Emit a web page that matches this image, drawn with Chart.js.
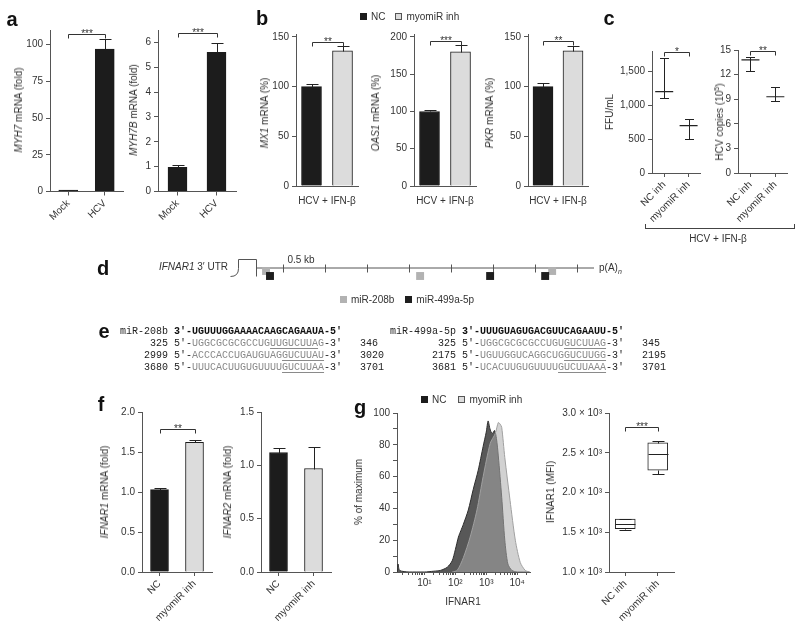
<!DOCTYPE html>
<html lang="en">
<head>
<meta charset="UTF-8">
<title>myomiR inhibition and IFNAR1</title>
<script src="https://cdn.jsdelivr.net/npm/chart.js"></script>
<style>
  body { margin: 0; background: #fff; }
  #fig { position: relative; width: 800px; height: 628px; overflow: hidden;
         font-family: "Liberation Sans", Arial, sans-serif; color: #333; }
  .cv { position: absolute; }
  .t { position: absolute; font-size: 10px; line-height: 12px; white-space: nowrap; will-change: transform; }
  .t sup { font-size: 7px; line-height: 0; }
  .t sub { font-size: 7px; line-height: 0; }
  .p { font-size: 20px; font-weight: bold; color: #111; line-height: 20px; }
  .sw { display: inline-block; width: 7px; height: 7px; margin-right: 4px; box-sizing: border-box; }
  .seq { position: absolute; margin: 0; font: 10px/12px "Liberation Mono", "DejaVu Sans Mono", monospace; color: #222;
         white-space: pre; will-change: transform; }
  .seq b { color: #111; }
  .seq .g { color: #8a8a8a; }
  .seq u { text-decoration-color: #8a8a8a; text-underline-offset: 2px; }
  .brk { position: absolute; border: 1px solid #444; border-top: none; }
</style>
</head>
<body>
<div id="fig">
  <pre class="seq" style="left:120px;top:326px">miR-208b <b>3′-UGUUUGGAAAACAAGCAGAAUA-5′</b>
     325 5′-<span class="g">UGGCGCGCGCCUG<u>UUGUCUUA</u>G</span>-3′   346
    2999 5′-<span class="g">ACCCACCUGAUGUAG<u>GUCUUAU</u></span>-3′   3020
    3680 5′-<span class="g">UUUCACUUGUGUUUU<u>GUCUUAA</u></span>-3′   3701</pre>
  <pre class="seq" style="left:390px;top:326px">miR-499a-5p <b>3′-UUUGUAGUGACGUUCAGAAUU-5′</b>
        325 5′-<span class="g">UGGCGCGCGCCUGU<u>GUCUUAG</u></span>-3′   345
       2175 5′-<span class="g">UGUUGGUCAGGCUG<u>GUCUUGG</u></span>-3′   2195
       3681 5′-<span class="g">UCACUUGUGUUUU<u>GUCUUAAA</u></span>-3′   3701</pre>
  <div class="brk" style="left:645px;top:224px;width:148px;height:4px"></div>
</div>

<script>
// ---- a: MYH7 / MYH7B after HCV infection ----
const aLabels = ['Mock', 'HCV'];
const myh7 = [1, 97], myh7Sem = [0.3, 7];
const myh7b = [0.97, 5.6], myh7bSem = [0.1, 0.37];
const myh7Ticks = [0, 25, 50, 75, 100];
const myh7bTicks = [0, 1, 2, 3, 4, 5, 6];

// ---- b: ISG mRNA, HCV + IFN-beta ----
const bLabels = ['NC', 'myomiR inh'];
const mx1 = [100, 136], mx1Sem = [3, 5];
const oas1 = [100, 180], oas1Sem = [2, 9];
const pkr = [100, 136], pkrSem = [4, 5];
const pct150Ticks = [0, 50, 100, 150];
const pct200Ticks = [0, 50, 100, 150, 200];

// ---- c: virus yield (mean with range) ----
const cLabels = ['NC inh', 'myomiR inh'];
const ffuMean = [1200, 700], ffuLo = [1100, 500], ffuHi = [1700, 800];
const hcvMean = [13.8, 9.3], hcvLo = [12.4, 8.8], hcvHi = [14.2, 10.5];
const ffuTicks = [0, 500, 1000, 1500];
const hcvTicks = [0, 3, 6, 9, 12, 15];

// ---- d: IFNAR1 3' UTR map (nt) ----
const utrSpan = [180, 4200];
const kbTicks = [500, 1000, 1500, 2000, 2500, 3000, 3500, 4000];
const sites208b = [298, 2131, 3702], lane208b = [0.6, 1.6, 0.6];
const sites499 = [345, 2964, 3619], lane499 = [1.6, 1.6, 1.6];

// ---- f: IFNAR1 / IFNAR2 mRNA ----
const fLabels = ['NC', 'myomiR inh'];
const ifnar1 = [1.03, 1.62], ifnar1Sem = [0.02, 0.03];
const ifnar2 = [1.12, 0.97], ifnar2Sem = [0.04, 0.2];
const fold2Ticks = [0, 0.5, 1, 1.5, 2];
const fold15Ticks = [0, 0.5, 1, 1.5];

// ---- g: flow histogram + MFI box plot ----
const ncMfi = [1.32, 1.41, 1.58, 3.2, 10, 20, 33, 55, 79, 100, 126, 151, 182, 263, 380, 550, 794, 1000, 1148, 1318, 1549, 1862, 2138, 2455, 3162, 3981, 5012, 6761, 10000, 25000];
const ncPct = [0, 5, 1, 0, 0, 0.5, 1, 3, 7, 14, 22, 26, 30, 39, 52, 64, 79, 88, 95, 90, 87, 89, 84, 73, 47, 20, 5, 1, 0, 0];
const myoMfi = [79, 115, 182, 302, 501, 794, 1349, 1950, 2455, 2818, 3162, 3981, 5888, 8710, 12589, 18197, 25000];
const myoPct = [0, 1, 9, 22, 39, 60, 81, 87, 94, 93, 91, 72, 45, 20, 6, 1, 0];
const pctTicks = [0, 5, 10, 15, 20, 25, 30, 35, 40, 45, 50, 55, 60, 65, 70, 75, 80, 85, 90, 95, 100];
const logTicks = [2, 3, 4, 5, 6, 7, 8, 9, 10, 20, 30, 40, 50, 60, 70, 80, 90, 100, 200, 300, 400, 500, 600, 700, 800, 900,
                  1000, 2000, 3000, 4000, 5000, 6000, 7000, 8000, 9000, 10000, 20000];
const logLabels = { 10: '10¹', 100: '10²', 1000: '10³', 10000: '10⁴' };
const boxMin = [1530, 2230], boxQ1 = [1545, 2280], boxMed = [1600, 2490], boxQ3 = [1665, 2625], boxMax = [1672, 2652];
const mfiTicks = [1000, 1500, 2000, 2500, 3000];

const AX = '#555', TXT = '#333', DARK = '#1c1c1c', LIGHT = '#dcdcdc';
Chart.defaults.font.family = '"Liberation Sans", Arial, sans-serif';
Chart.defaults.font.size = 10;
Chart.defaults.color = TXT;

const fig = document.getElementById('fig');

// a div + canvas whose chart area lands on area = [x0, x1, y0, y1]
function host(area, pad) {
  const d = document.createElement('div');
  d.className = 'cv';
  const left = area[0] - pad.l, top = area[2] - pad.t;
  d.style.left = left + 'px';
  d.style.top = top + 'px';
  d.style.width = (area[1] + pad.r - left) + 'px';
  d.style.height = (area[3] + pad.b - top) + 'px';
  const c = document.createElement('canvas');
  d.appendChild(c);
  fig.appendChild(d);
  return c;
}

function text(html, x, y, align = 'c', cls = '') {
  const d = document.createElement('div');
  d.className = 't ' + cls;
  d.innerHTML = html;
  d.style.left = x + 'px';
  d.style.top = y + 'px';
  const tx = align === 'l' ? '0' : align === 'r' ? '-100%' : '-50%';
  d.style.transform = `translate(${tx},-50%)`;
  fig.appendChild(d);
}

function yTitle(html, x, y) {
  const d = document.createElement('div');
  d.className = 't';
  d.innerHTML = html;
  d.style.left = x + 'px';
  d.style.top = y + 'px';
  d.style.transform = 'translate(-50%,-50%) rotate(-90deg)';
  fig.appendChild(d);
}

// error bars: upper SEM for bars, full range for mean markers
const errPlugin = {
  id: 'err',
  afterDatasetsDraw(chart) {
    const { ctx } = chart, ys = chart.scales.y;
    chart.data.datasets.forEach((ds, i) => {
      chart.getDatasetMeta(i).data.forEach((el, j) => {
        let lo, hi;
        if (ds.sem) { lo = ds.data[j]; hi = ds.data[j] + ds.sem[j]; }
        else if (ds.lo) { lo = ds.lo[j]; hi = ds.hi[j]; }
        else return;
        const x = Math.round(el.x) + 0.5;
        const y0 = Math.round(ys.getPixelForValue(lo)) + 0.5;
        const y1 = Math.round(ys.getPixelForValue(hi)) + 0.5;
        const c = ds.capHalf || 5;
        ctx.save();
        ctx.strokeStyle = '#222';
        ctx.lineWidth = 1;
        ctx.beginPath();
        ctx.moveTo(x, y0); ctx.lineTo(x, y1);
        ctx.moveTo(x - c, y1); ctx.lineTo(x + c, y1);
        if (ds.lo) { ctx.moveTo(x - c, y0); ctx.lineTo(x + c, y0); }
        ctx.stroke();
        ctx.restore();
      });
    });
  }
};

// significance bracket between the two categories
const sigPlugin = {
  id: 'sig',
  afterDraw(chart, args, o) {
    if (!o.text) return;
    const { ctx } = chart, xs = chart.scales.x, ys = chart.scales.y;
    const x0 = Math.round(xs.getPixelForTick(0)) + 0.5, x1 = Math.round(xs.getPixelForTick(1)) + 0.5;
    const y = Math.round(ys.getPixelForValue(o.at)) + 0.5;
    ctx.save();
    ctx.strokeStyle = '#333';
    ctx.lineWidth = 1;
    ctx.beginPath();
    ctx.moveTo(x0, y + 4); ctx.lineTo(x0, y); ctx.lineTo(x1, y); ctx.lineTo(x1, y + 4);
    ctx.stroke();
    ctx.fillStyle = '#333';
    ctx.font = '10px "Liberation Sans", Arial, sans-serif';
    ctx.textAlign = 'center';
    ctx.textBaseline = 'alphabetic';
    ctx.fillText(o.text, (x0 + x1) / 2, y + 2);
    ctx.restore();
  }
};

// median + whiskers on top of floating q1..q3 bars
const boxPlugin = {
  id: 'box',
  afterDatasetsDraw(chart) {
    const { ctx } = chart, ys = chart.scales.y;
    const ds = chart.data.datasets[0];
    const py = v => Math.round(ys.getPixelForValue(v)) + 0.5;
    chart.getDatasetMeta(0).data.forEach((el, j) => {
      const x = Math.round(el.x) + 0.5, hw = el.width / 2;
      ctx.save();
      ctx.strokeStyle = '#222';
      ctx.lineWidth = 1;
      ctx.beginPath();
      ctx.moveTo(x - hw, py(ds.med[j])); ctx.lineTo(x + hw, py(ds.med[j]));
      ctx.moveTo(x, py(ds.q3[j])); ctx.lineTo(x, py(ds.hi[j]));
      ctx.moveTo(x - 6, py(ds.hi[j])); ctx.lineTo(x + 6, py(ds.hi[j]));
      ctx.moveTo(x, py(ds.q1[j])); ctx.lineTo(x, py(ds.lo[j]));
      ctx.moveTo(x - 6, py(ds.lo[j])); ctx.lineTo(x + 6, py(ds.lo[j]));
      ctx.stroke();
      ctx.restore();
    });
  }
};

// UTR tick marks and the stop-codon cap on the left of the line
const utrPlugin = {
  id: 'utr',
  beforeDatasetsDraw(chart) {
    const { ctx } = chart, xs = chart.scales.x, ys = chart.scales.y;
    const y0 = Math.round(ys.getPixelForValue(0)) + 0.5;
    ctx.save();
    ctx.strokeStyle = '#555';
    ctx.lineWidth = 1;
    ctx.beginPath();
    kbTicks.forEach(v => {
      const px = Math.round(xs.getPixelForValue(v)) + 0.5;
      ctx.moveTo(px, y0 - 4); ctx.lineTo(px, y0 + 4);
    });
    const xr = Math.round(xs.getPixelForValue(utrSpan[0])) + 0.5, xl = xr - 26;
    ctx.moveTo(xl, y0 + 8);
    ctx.quadraticCurveTo(xl + 8, y0 + 8, xl + 8, y0);
    ctx.lineTo(xl + 8, y0 - 9); ctx.lineTo(xr, y0 - 9); ctx.lineTo(xr, y0 + 8);
    ctx.stroke();
    ctx.restore();
  }
};

function baseOpts(pad, scales, extra = {}) {
  return {
    responsive: true, maintainAspectRatio: false, animation: false,
    layout: { padding: { top: pad.t, right: pad.r, left: 0, bottom: 0 } },
    plugins: Object.assign({ legend: { display: false }, tooltip: { enabled: false } }, extra),
    scales
  };
}

function yLin(ticks, min, max, fmt, w) {
  return {
    min, max,
    border: { color: AX },
    grid: { drawOnChartArea: false, color: AX, tickLength: 4 },
    ticks: { padding: 3, color: TXT, callback: fmt || (v => v) },
    afterBuildTicks: s => { s.ticks = ticks.map(v => ({ value: v })); },
    afterFit: s => { s.width = w; }
  };
}

function xCat(h, show) {
  return {
    offset: true,
    border: { color: AX },
    grid: { display: show, drawOnChartArea: false, offset: false, color: AX, tickLength: 4 },
    ticks: { display: show, autoSkip: false, minRotation: 45, maxRotation: 45, padding: 2, color: TXT },
    afterFit: s => { s.height = h; }
  };
}

function barChart(area, labels, vals, sem, colors, ticks, max, o = {}) {
  const pad = { l: 40, t: 22, r: 8, b: o.xLabels ? 56 : 4 };
  new Chart(host(area, pad), {
    type: 'bar',
    data: { labels, datasets: [{ data: vals, sem, capHalf: 6, backgroundColor: colors,
      borderColor: DARK, borderWidth: 1, barThickness: o.bw || 19 }] },
    options: baseOpts(pad, { x: xCat(pad.b, !!o.xLabels), y: yLin(ticks, 0, max, o.fmt, pad.l) },
      { sig: o.sig || {} }),
    plugins: [errPlugin, sigPlugin]
  });
}

function rangeChart(area, labels, mean, lo, hi, ticks, max, fmt, sig) {
  const pad = { l: 40, t: 22, r: 8, b: 56 };
  new Chart(host(area, pad), {
    type: 'line',
    data: { labels, datasets: [{ data: mean, lo, hi, capHalf: 4.5, showLine: false,
      pointStyle: 'line', pointRadius: 9, pointBorderWidth: 1.2, pointBorderColor: '#222', borderColor: '#222' }] },
    options: baseOpts(pad, { x: xCat(pad.b, true), y: yLin(ticks, 0, max, fmt, pad.l) }, { sig }),
    plugins: [errPlugin, sigPlugin]
  });
}

const two = [DARK, LIGHT];
const fix1 = v => v.toFixed(1);
const thousands = v => v.toLocaleString('en-US');

// a
barChart([50, 123, 29.5, 191], aLabels, myh7, myh7Sem, [DARK, DARK], myh7Ticks, 110,
  { xLabels: true, bw: 19, sig: { text: '***', at: 107.5 } });
barChart([158, 236, 29.5, 191], aLabels, myh7b, myh7bSem, [DARK, DARK], myh7bTicks, 6.5,
  { xLabels: true, bw: 19, sig: { text: '***', at: 6.36 } });

// b
barChart([296, 358, 34, 191], bLabels, mx1, mx1Sem, two, pct150Ticks, 153, { bw: 20, sig: { text: '**', at: 145 } });
barChart([414, 476, 34, 191], bLabels, oas1, oas1Sem, two, pct200Ticks, 204, { bw: 20, sig: { text: '***', at: 194 } });
barChart([528, 588, 34, 191], bLabels, pkr, pkrSem, two, pct150Ticks, 153, { bw: 20, sig: { text: '**', at: 146 } });

// c
rangeChart([652, 703, 51, 173], cLabels, ffuMean, ffuLo, ffuHi, ffuTicks, 1800, thousands, { text: '*', at: 1790 });
rangeChart([738, 790, 50, 173], cLabels, hcvMean, hcvLo, hcvHi, hcvTicks, 15, null, { text: '**', at: 14.9 });

// d
const dPad = { l: 20, t: 10, r: 6, b: 6 };
new Chart(host([241, 594, 263, 283], dPad), {
  type: 'scatter',
  data: { datasets: [
    { data: sites499.map((x, i) => ({ x, y: lane499[i] })), pointStyle: 'rect', pointRadius: 5.6,
      pointBackgroundColor: '#1e1e1e', pointBorderWidth: 0, order: 0 },
    { data: sites208b.map((x, i) => ({ x, y: lane208b[i] })), pointStyle: 'rect', pointRadius: 5.6,
      pointBackgroundColor: '#b2b2b2', pointBorderWidth: 0, order: 1 },
    { data: utrSpan.map(x => ({ x, y: 0 })), showLine: true, borderColor: '#555', borderWidth: 1,
      pointRadius: 0, order: 2 }
  ] },
  options: {
    responsive: true, maintainAspectRatio: false, animation: false,
    layout: { padding: { left: dPad.l, top: dPad.t, right: dPad.r, bottom: dPad.b } },
    plugins: { legend: { display: false }, tooltip: { enabled: false } },
    scales: {
      x: { type: 'linear', display: false, min: 0, max: 4200 },
      y: { type: 'linear', display: false, min: -1, max: 3, reverse: true }
    }
  },
  plugins: [utrPlugin]
});

// f
barChart([142, 212, 412, 572], fLabels, ifnar1, ifnar1Sem, two, fold2Ticks, 2,
  { xLabels: true, bw: 18, fmt: fix1, sig: { text: '**', at: 1.79 } });
barChart([261, 331, 412, 572], fLabels, ifnar2, ifnar2Sem, two, fold15Ticks, 1.5,
  { xLabels: true, bw: 18, fmt: fix1 });

// g histogram
const hPad = { l: 40, t: 10, r: 8, b: 22 };
new Chart(host([397, 530, 413, 572], hPad), {
  type: 'scatter',
  data: { datasets: [
    { data: ncMfi.map((x, i) => ({ x, y: ncPct[i] })), showLine: true, fill: 'origin', tension: 0.25,
      pointRadius: 0, borderWidth: 1, borderColor: '#2e2e2e', backgroundColor: 'rgb(88,88,88)', order: 1 },
    { data: myoMfi.map((x, i) => ({ x, y: myoPct[i] })), showLine: true, fill: 'origin', tension: 0.25,
      pointRadius: 0, borderWidth: 1, borderColor: '#a0a0a0', backgroundColor: 'rgba(172,172,172,0.55)', order: 0 }
  ] },
  options: baseOpts(hPad, {
    x: {
      type: 'logarithmic', min: 1.3, max: 26000,
      border: { color: AX },
      grid: { drawOnChartArea: false, color: AX, tickLength: 3 },
      ticks: { padding: 2, autoSkip: false, maxRotation: 0, color: TXT, callback: v => logLabels[v] || '' },
      afterBuildTicks: s => { s.ticks = logTicks.map(v => ({ value: v })); },
      afterFit: s => { s.height = hPad.b; }
    },
    y: yLin(pctTicks, 0, 100, v => (v % 20 === 0 ? v : ''), hPad.l)
  })
});

// g box plot
const bxPad = { l: 60, t: 22, r: 8, b: 56 };
new Chart(host([609, 674, 413, 572], bxPad), {
  type: 'bar',
  data: { labels: cLabels, datasets: [{
    data: boxQ1.map((q, i) => [q, boxQ3[i]]), q1: boxQ1, q3: boxQ3, med: boxMed, lo: boxMin, hi: boxMax,
    backgroundColor: '#fff', borderColor: '#222', borderWidth: 1, borderSkipped: false, barThickness: 20 }] },
  options: baseOpts(bxPad, {
    x: xCat(bxPad.b, true),
    y: yLin(mfiTicks, 1000, 3000, v => (v / 1000).toFixed(1) + ' × 10³', bxPad.l)
  }, { sig: { text: '***', at: 2824 } }),
  plugins: [boxPlugin, sigPlugin]
});

// ---- text ----
text('a', 12, 19, 'c', 'p');
text('b', 262, 18, 'c', 'p');
text('c', 609, 18, 'c', 'p');
text('d', 103, 268, 'c', 'p');
text('e', 104, 331, 'c', 'p');
text('f', 101, 404, 'c', 'p');
text('g', 360, 407, 'c', 'p');

yTitle('<i>MYH7</i> mRNA (fold)', 19, 110);
yTitle('<i>MYH7B</i> mRNA (fold)', 134, 110);
yTitle('<i>MX1</i> mRNA (%)', 265, 113);
yTitle('<i>OAS1</i> mRNA (%)', 376, 113);
yTitle('<i>PKR</i> mRNA (%)', 490, 113);
yTitle('FFU/mL', 610, 112);
yTitle('HCV copies (10<sup>5</sup>)', 720, 122);
yTitle('<i>IFNAR1</i> mRNA (fold)', 105, 492);
yTitle('<i>IFNAR2</i> mRNA (fold)', 228, 492);
yTitle('% of maximum', 359, 492);
yTitle('IFNAR1 (MFI)', 551, 492);

text('HCV + IFN-β', 327, 201);
text('HCV + IFN-β', 445, 201);
text('HCV + IFN-β', 558, 201);
text('HCV + IFN-β', 718, 239);
text('IFNAR1', 463, 602);

const swDark = '<span class="sw" style="background:' + DARK + '"></span>';
const swLight = '<span class="sw" style="background:' + LIGHT + ';border:1px solid #555"></span>';
text(swDark + 'NC<span style="display:inline-block;width:10px"></span>' + swLight + 'myomiR inh', 360, 17, 'l');
text(swDark + 'NC<span style="display:inline-block;width:12px"></span>' + swLight + 'myomiR inh', 421, 400, 'l');

text('<i>IFNAR1</i> 3′ UTR', 228, 267, 'r');
text('0.5 kb', 301, 260);
text('p(A)<sub><i>n</i></sub>', 599, 268, 'l');
text('<span class="sw" style="background:#b2b2b2"></span>miR-208b<span style="display:inline-block;width:11px"></span>' +
     '<span class="sw" style="background:#1e1e1e"></span>miR-499a-5p', 340, 300, 'l');
</script>
</body>
</html>
